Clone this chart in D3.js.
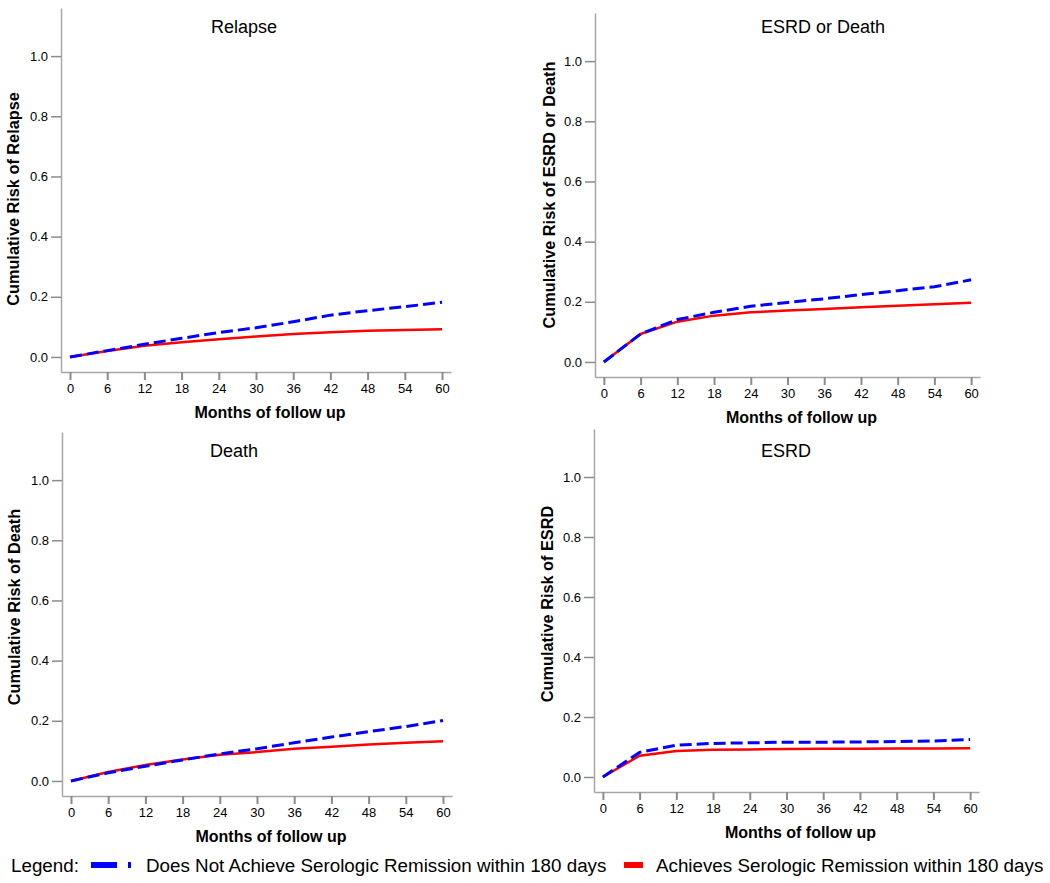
<!DOCTYPE html>
<html>
<head>
<meta charset="utf-8">
<script src="https://cdn.jsdelivr.net/npm/d3@7"></script>
<style>
  html, body { margin: 0; padding: 0; background: #ffffff; }
  svg { display: block; font-family: "Liberation Sans", Arial, sans-serif; }
</style>
</head>
<body>
<svg id="chart" width="1050" height="883"></svg>
<script>
// ---- Data ----
const months = [0, 6, 12, 18, 24, 30, 36, 42, 48, 54, 60];
const xTickLabels = [0, 6, 12, 18, 24, 30, 36, 42, 48, 54, 60];
const yTickLabels = [0.0, 0.2, 0.4, 0.6, 0.8, 1.0];

const seriesNames = [
  "Does Not Achieve Serologic Remission within 180 days",
  "Achieves Serologic Remission within 180 days"
];

const relapseNot   = [0, 0.021, 0.042, 0.062, 0.081, 0.097, 0.117, 0.139, 0.154, 0.167, 0.182];
const relapseAch   = [0, 0.020, 0.037, 0.049, 0.059, 0.068, 0.076, 0.082, 0.087, 0.090, 0.092];
const esrdDeathNot = [0, 0.093, 0.141, 0.165, 0.185, 0.198, 0.210, 0.224, 0.237, 0.250, 0.273];
const esrdDeathAch = [0, 0.093, 0.134, 0.154, 0.165, 0.171, 0.176, 0.182, 0.187, 0.192, 0.197];
const deathNot     = [0, 0.027, 0.049, 0.070, 0.090, 0.107, 0.127, 0.146, 0.164, 0.181, 0.201];
const deathAch     = [0, 0.030, 0.053, 0.071, 0.087, 0.096, 0.107, 0.114, 0.121, 0.127, 0.132];
const esrdNot      = [0, 0.082, 0.106, 0.112, 0.114, 0.116, 0.116, 0.117, 0.118, 0.120, 0.125];
const esrdAch      = [0, 0.071, 0.087, 0.091, 0.092, 0.093, 0.094, 0.094, 0.095, 0.095, 0.096];

const panelTitles = ["Relapse", "ESRD or Death", "Death", "ESRD"];
const yAxisTitles = ["Cumulative Risk of Relapse", "Cumulative Risk of ESRD or Death",
                     "Cumulative Risk of Death", "Cumulative Risk of ESRD"];
const xAxisTitle = "Months of follow up";

// ---- Layout (positions only) ----
const layout = [
  { left: 61,  top: 8,   right: 451, bottom: 372, titleX: 244, titleY: 33,  yTitleX: 19,  yTitleY: 199 },
  { left: 595, top: 13,  right: 980, bottom: 377, titleX: 823, titleY: 33,  yTitleX: 555, yTitleY: 195 },
  { left: 62,  top: 432, right: 452, bottom: 796, titleX: 234, titleY: 457, yTitleX: 20,  yTitleY: 607 },
  { left: 594, top: 429, right: 979, bottom: 792, titleX: 786, titleY: 457, yTitleX: 553, yTitleY: 604 }
];
const panelSeries = [
  [relapseNot, relapseAch],
  [esrdDeathNot, esrdDeathAch],
  [deathNot, deathAch],
  [esrdNot, esrdAch]
];

const BLUE = "#0000ff", RED = "#ff0000", AXIS = "#a6a6a6", TICK = "#8c8c8c";
const svg = d3.select("#chart");

layout.forEach((L, i) => {
  const x = d3.scaleLinear().domain([-1.45, 61.45]).range([L.left, L.right]);
  const y = d3.scaleLinear().domain([-0.05, 1.16]).range([L.bottom, L.top]);
  const g = svg.append("g");

  // x axis
  const xa = g.append("g").attr("transform", `translate(0,${L.bottom})`)
    .call(d3.axisBottom(x).tickValues(xTickLabels).tickSizeInner(8).tickSizeOuter(0).tickPadding(4).tickFormat(d3.format("d")));
  xa.select(".domain").attr("stroke", AXIS).attr("stroke-width", 1.5);
  xa.selectAll(".tick line").attr("stroke", TICK).attr("stroke-width", 2);
  xa.selectAll(".tick text").attr("fill", "#000").attr("font-size", 13)
    .attr("font-family", "'Liberation Sans', Arial, sans-serif");

  // y axis
  const ya = g.append("g").attr("transform", `translate(${L.left},0)`)
    .call(d3.axisLeft(y).tickValues(yTickLabels).tickSizeInner(10).tickSizeOuter(0).tickPadding(3).tickFormat(d3.format(".1f")));
  ya.select(".domain").attr("stroke", AXIS).attr("stroke-width", 1.5);
  ya.selectAll(".tick line").attr("stroke", TICK).attr("stroke-width", 1.5);
  ya.selectAll(".tick text").attr("fill", "#000").attr("font-size", 13)
    .attr("font-family", "'Liberation Sans', Arial, sans-serif");

  // lines
  const line = d3.line().x((d, j) => x(months[j])).y(d => y(d));
  g.append("path").datum(panelSeries[i][1]).attr("d", line)
    .attr("fill", "none").attr("stroke", RED).attr("stroke-width", 2.5);
  g.append("path").datum(panelSeries[i][0]).attr("d", line)
    .attr("fill", "none").attr("stroke", BLUE).attr("stroke-width", 3)
    .attr("stroke-dasharray", "12,5");

  // titles
  g.append("text").attr("x", L.titleX).attr("y", L.titleY).attr("text-anchor", "middle")
    .attr("font-size", 18).attr("fill", "#000").text(panelTitles[i]);
  g.append("text").attr("x", (x(0) + x(60)) / 2 + 14).attr("y", L.bottom + 46)
    .attr("text-anchor", "middle").attr("font-size", 16).attr("font-weight", "bold")
    .attr("fill", "#000").text(xAxisTitle);
  g.append("text").attr("transform", `translate(${L.yTitleX},${L.yTitleY}) rotate(-90)`)
    .attr("text-anchor", "middle").attr("font-size", 16.3).attr("font-weight", "bold")
    .attr("fill", "#000").text(yAxisTitles[i]);
});

// legend
const lg = svg.append("g");
lg.append("text").attr("x", 11).attr("y", 872).attr("font-size", 18.8).attr("fill", "#000").text("Legend:");
lg.append("rect").attr("x", 91).attr("y", 862).attr("width", 26).attr("height", 6).attr("fill", BLUE);
lg.append("rect").attr("x", 128).attr("y", 862).attr("width", 3).attr("height", 6).attr("fill", BLUE);
lg.append("text").attr("x", 146).attr("y", 872).attr("font-size", 18.8).attr("fill", "#000").text(seriesNames[0]);
lg.append("rect").attr("x", 624).attr("y", 862).attr("width", 19).attr("height", 6).attr("fill", RED);
lg.append("text").attr("x", 656).attr("y", 872).attr("font-size", 18.8).attr("fill", "#000").text(seriesNames[1]);
</script>
</body>
</html>
